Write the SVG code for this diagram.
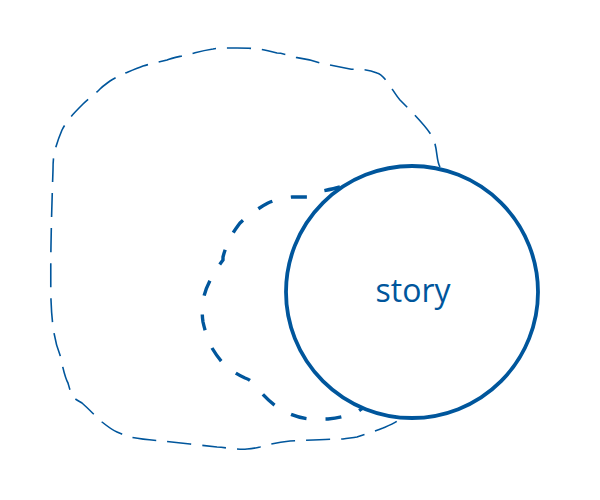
<svg xmlns="http://www.w3.org/2000/svg" width="600" height="500" viewBox="0 0 600 500">
<style>
.node{fill:#fff;stroke:#00569c;stroke-width:3.8}
.lbl{font-family:"Open Sans",sans-serif;font-size:32px;fill:#00569c;text-anchor:middle}
.thin{fill:none;stroke:#00569c;stroke-width:1.6;stroke-dasharray:24 11;stroke-linecap:butt}
.thick{fill:none;stroke:#00569c;stroke-width:3.4;stroke-dasharray:16 19}
</style>
<rect width="600" height="500" fill="#fff"/>
<g id="connectors">
<path class="thin" d="M440,167 C436,160 438,150 433,138 C428,128 410,110 400,100 C393,92 385,75 377,73 C365,68 355,70 350,69 C335,66 325,64 320,63 C305,58 298,58 293,57 C285,54 280,53 277,53 C265,50 260,49 257,49 C250,48 242,48 237,48 C225,48 218,48 213,49 C200,51 195,53 190,54 C178,57 172,58 167,60 C155,63 150,64 143,66 C135,69 128,72 123,74 C117,77 113,79 110,81 C106,84 103,86 100,89 C94,95 88,99 83,104 C76,111 71,116 67,122 C64,126 63,128 62,130 C59,137 57,143 55,150 C53,158 53,165 53,170 C52,200 50,260 51,300 C52,330 56,345 60,355 C63,368 65,378 68,383 C70,390 71,394 73,397 C76,400 79,401 82,403 C90,410 96,417 102,422 C107,426 112,430 117,432 C122,434 126,436 130,437 C140,439 150,440 163,441 C180,443 200,445 217,447 C230,448 240,450 247,449 C252,449 256,448 260,447 C270,444 280,442 290,441 C310,440 330,439 343,439 C348,438 352,438 357,437 C366,434 375,431 383,428 C390,425 395,423 400,419"/>
<path class="thick" d="M340,187 C330,190 320,191 313,193 C311,195 309,196 307,197 C300,197 296,197 292,197 C282,198 275,200 268,203 C264,205 261,207 258,209 C252,213 245,218 240,223 C237,227 234,231 232,235 C228,242 225,249 223,257 C223,258 223,259 223,260 C220,264 217,268 215,272 C209,281 204,292 203,302 C202,309 202,316 203,322 C205,331 208,340 212,348 C215,353 219,359 223,363 C230,370 238,375 245,378 C248,379 250,380 252,382 C254,384 256,387 258,389 C264,396 270,402 277,407 C281,410 286,412 290,414 C297,417 305,419 313,419 C318,419 323,419 328,419 C338,418 348,416 357,412 C359,411 361,409 363,408"/>
</g>
<g id="story">
<circle class="node" cx="412" cy="292" r="126"/>
<text class="lbl" x="413" y="302">story</text>
</g>
</svg>
